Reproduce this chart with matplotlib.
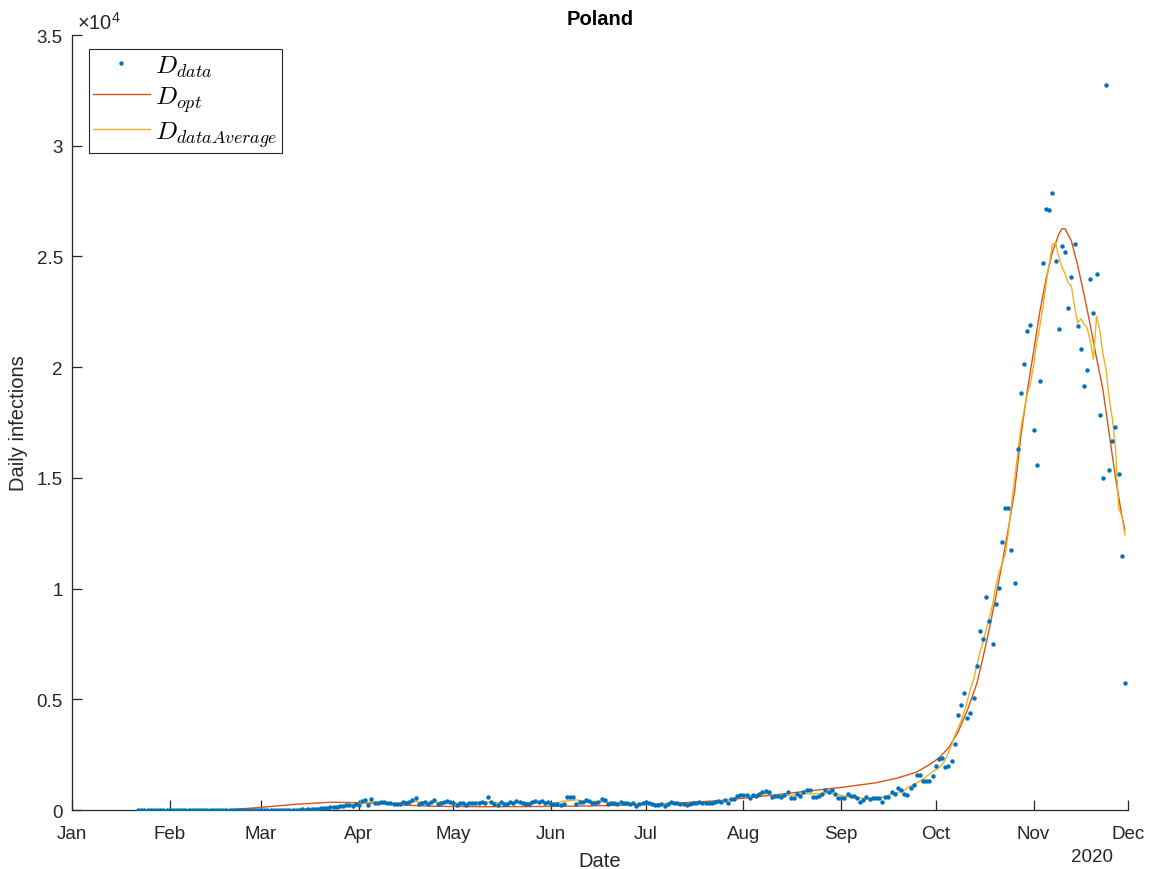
import numpy as np
import pandas as pd
import matplotlib
matplotlib.use('Agg')
import matplotlib.pyplot as plt

plt.rcParams['font.family'] = ['Liberation Sans', 'DejaVu Sans']
plt.rcParams['mathtext.fontset'] = 'cm'

# daily new cases, Poland, starting 2020-01-22
start_date = '2020-01-22'
cases_jan_feb = [0] * 42  # Jan 22 .. Mar 3
cases_mar = [1, 0, 4, 1, 5, 6, 5, 9, 20, 17, 36, 8, 52, 54, 49, 68, 111, 111,
             98, 115, 152, 150, 170, 168, 249, 224, 193, 256]
cases_apr = [243, 392, 437, 244, 475, 311, 325, 370, 380, 336, 318, 268, 260,
             270, 380, 336, 363, 461, 545, 263, 313, 381, 263, 382, 460, 285,
             306, 344, 401, 381]
cases_may = [296, 215, 311, 308, 235, 307, 325, 337, 307, 345, 330, 595, 374,
             285, 240, 353, 276, 264, 344, 316, 426, 357, 316, 285, 283, 346,
             391, 346, 385, 319, 380]
cases_jun = [292, 270, 293, 244, 292, 576, 575, 599, 282, 359, 364, 440, 407,
             314, 318, 377, 506, 439, 294, 302, 311, 254, 341, 304, 305, 267,
             307, 193, 263, 339]
cases_jul = [371, 318, 286, 228, 243, 262, 193, 280, 358, 297, 299, 263, 290,
             233, 270, 326, 337, 358, 305, 333, 318, 337, 358, 418, 384, 443,
             337, 512, 512, 615, 657]
cases_aug = [658, 680, 548, 680, 640, 726, 809, 843, 829, 599, 624, 639, 587,
             690, 832, 547, 548, 727, 631, 811, 903, 887, 598, 582, 646, 728,
             887, 832, 900, 740, 556]
cases_sep = [549, 550, 719, 650, 651, 558, 377, 470, 601, 501, 558, 553, 520,
             377, 600, 603, 834, 740, 1002, 910, 740, 700, 974, 1136, 1587,
             1584, 1306, 1306, 1326, 1552]
cases_oct = [1967, 2292, 2367, 1934, 2006, 2236, 3003, 4280, 4739, 5300, 4178,
             4394, 5068, 6526, 8099, 7705, 9622, 8536, 7482, 9291, 10040,
             12107, 13632, 13628, 11742, 10241, 16300, 18820, 20156, 21629,
             21897]
cases_nov = [17171, 15578, 19364, 24692, 27143, 27086, 27875, 24785, 21713,
             25484, 25221, 22683, 24051, 25571, 21854, 20816, 19152, 19883,
             23975, 22464, 24213, 17856, 15002, 32733, 15362, 16687, 17317,
             15178, 11483, 5733]

opt_dates = ['2020-01-22', '2020-02-20', '2020-03-01', '2020-03-12',
             '2020-03-23', '2020-04-02', '2020-04-14', '2020-04-25',
             '2020-05-10', '2020-05-25', '2020-06-09', '2020-06-24',
             '2020-07-09', '2020-07-24', '2020-08-03', '2020-08-13',
             '2020-08-23', '2020-09-01', '2020-09-12', '2020-09-19',
             '2020-09-25', '2020-09-29', '2020-10-02', '2020-10-05',
             '2020-10-08', '2020-10-11', '2020-10-14', '2020-10-16',
             '2020-10-18', '2020-10-20', '2020-10-22', '2020-10-24',
             '2020-10-26', '2020-10-28', '2020-10-30', '2020-11-01',
             '2020-11-03', '2020-11-05', '2020-11-07', '2020-11-09',
             '2020-11-10', '2020-11-11', '2020-11-13', '2020-11-15',
             '2020-11-17', '2020-11-19', '2020-11-21', '2020-11-23',
             '2020-11-25', '2020-11-27', '2020-11-29', '2020-11-30']
opt_values = [0, 10, 120, 260, 350, 330, 230, 167, 150, 155, 175, 215, 300,
              420, 560, 720, 880, 1020, 1230, 1450, 1720, 2050, 2350, 2800,
              3500, 4500, 5700, 6900, 8200, 9600, 11100, 12700, 14400, 16900,
              18900, 20700, 22500, 24000, 25200, 26000, 26250, 26250, 25700,
              24600, 23300, 21900, 20400, 19000, 17000, 15000, 13300, 12650]

month_labels = ['Jan', 'Feb', 'Mar', 'Apr', 'May', 'Jun', 'Jul', 'Aug', 'Sep',
                'Oct', 'Nov', 'Dec']
ytick_values = [0, 5000, 10000, 15000, 20000, 25000, 30000, 35000]
ytick_labels = ['0', '0.5', '1', '1.5', '2', '2.5', '3', '3.5']

cases = (cases_jan_feb + cases_mar + cases_apr + cases_may + cases_jun +
         cases_jul + cases_aug + cases_sep + cases_oct + cases_nov)
dates = pd.date_range(start_date, periods=len(cases), freq='D')
data = pd.Series(cases, index=dates, dtype=float)
data_avg = data.rolling(7, center=True, min_periods=1).mean()

blue = '#0072BD'
red = '#D95319'
yellow = '#EDB120'
axis_col = '#262626'

fig = plt.figure(figsize=(11.6, 8.7), dpi=100)
ax = fig.add_axes([0.062, 0.0678, 0.9105, 0.8908])

ax.plot(data.index, data.values, 'o', color=blue, markersize=3.2,
        markeredgewidth=0, label=r'$D_{data}$', zorder=3)
ax.plot(pd.to_datetime(opt_dates), opt_values, '-', color=red, lw=1.0,
        label=r'$D_{opt}$', zorder=2)
ax.plot(data_avg.index, data_avg.values, '-', color=yellow, lw=1.0,
        label=r'$D_{dataAverage}$', zorder=2)

ax.set_xlim(pd.Timestamp('2020-01-01'), pd.Timestamp('2020-12-01'))
ax.set_ylim(0, 35000)
month_ticks = pd.date_range('2020-01-01', '2020-12-01', freq='MS')
ax.set_xticks(month_ticks)
ax.set_xticklabels(month_labels)
ax.set_yticks(ytick_values)
ax.set_yticklabels(ytick_labels)

for side in ['top', 'right']:
    ax.spines[side].set_visible(False)
for side in ['left', 'bottom']:
    ax.spines[side].set_color(axis_col)
    ax.spines[side].set_linewidth(0.9)
ax.tick_params(direction='in', length=7.5, width=0.9, colors=axis_col,
               labelsize=13.5)
ax.tick_params(axis='x', pad=10.5)
ax.tick_params(axis='y', pad=6.5)

ax.set_xlabel('Date', fontsize=14.5, color=axis_col, labelpad=7)
ax.set_ylabel('Daily infections', fontsize=14.5, color=axis_col, labelpad=6)
ax.set_title('Poland', fontsize=14.5, fontweight='bold', pad=8)
ax.text(0.005, 1.003, r'$\mathregular{\times10^{4}}$', transform=ax.transAxes,
        fontsize=14.5, color=axis_col, ha='left', va='bottom')
ax.text(0.966, -0.0606, '2020', transform=ax.transAxes, fontsize=13.5,
        color=axis_col, ha='center', va='center')

leg = ax.legend(loc='upper left', bbox_to_anchor=(0.016, 0.982),
                borderaxespad=0, fontsize=18.5, fancybox=False, framealpha=1,
                edgecolor=axis_col, handlelength=2.2, labelspacing=0.2,
                markerscale=1.0, borderpad=0.17, handletextpad=0.2)
leg.get_frame().set_linewidth(0.8)

fig.savefig('out.png', dpi=100)
